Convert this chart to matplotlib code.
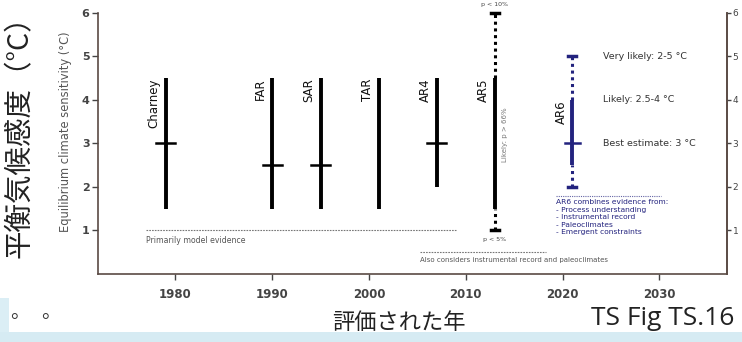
import numpy as np
import matplotlib
matplotlib.use("Agg")
import matplotlib.pyplot as plt
from matplotlib.patches import Rectangle

# ---- data ----
assessments = ["Charney", "FAR", "SAR", "TAR", "AR4", "AR5", "AR6"]
years = [1979, 1990, 1995, 2001, 2007, 2013, 2021]
likely_low = [1.5, 1.5, 1.5, 1.5, 2.0, 1.5, 2.5]
likely_high = [4.5, 4.5, 4.5, 4.5, 4.5, 4.5, 4.0]
best_estimate = [3.0, 2.5, 2.5, np.nan, 3.0, np.nan, 3.0]
very_likely = {"AR5": (1.0, 6.0), "AR6": (2.0, 5.0)}
yticks = [1, 2, 3, 4, 5, 6]
xticks = [1980, 1990, 2000, 2010, 2020, 2030]
ar6_notes = [(5.0, "Very likely: 2-5 °C"), (4.0, "Likely: 2.5-4 °C"), (3.0, "Best estimate: 3 °C")]
ar6_evidence = ["AR6 combines evidence from:", "- Process understanding",
                "- Instrumental record", "- Paleoclimates", "- Emergent constraints"]

JP = ["Noto Sans CJK JP", "DejaVu Sans"]
NAVY = "#23237e"
GREY = "#555555"

fig = plt.figure(figsize=(7.42, 3.42), dpi=100)
fig.patch.set_facecolor("white")

# decorative light-blue background strips of the slide
fig.patches.append(Rectangle((0, 0), 1, 0.028, transform=fig.transFigure,
                             facecolor="#d6ebf3", edgecolor="none", zorder=0))
fig.patches.append(Rectangle((0.0, 0.028), 0.012, 0.1, transform=fig.transFigure,
                             facecolor="#dbeef5", edgecolor="none", zorder=0))

ax = fig.add_axes([0.132, 0.199, 0.848, 0.763])
ax.set_xlim(1972, 2037)
ax.set_ylim(0, 6)
ax.set_facecolor("white")
ax.spines["top"].set_visible(False)
for s in ["left", "bottom", "right"]:
    ax.spines[s].set_color("#5a4a44")
    ax.spines[s].set_linewidth(1.2)

ax.set_yticks(yticks)
ax.set_yticklabels([str(v) for v in yticks])
ax.set_xticks(xticks)
ax.set_xticklabels([str(v) for v in xticks])
ax.tick_params(axis="y", length=4, width=1, colors="#444444", labelsize=8, pad=2)
ax.tick_params(axis="x", length=4, width=1, colors="#444444", labelsize=8.5, pad=6)
for lab in ax.get_xticklabels() + ax.get_yticklabels():
    lab.set_fontweight("bold")
    lab.set_color("#444444")

# right axis
ax2 = ax.twinx()
ax2.set_ylim(0, 6)
ax2.set_yticks(yticks)
ax2.set_yticklabels([str(v) for v in yticks])
ax2.tick_params(axis="y", length=3, width=1, colors="#444444", labelsize=6.5, pad=1)
for s in ["top", "left", "bottom"]:
    ax2.spines[s].set_visible(False)
ax2.spines["right"].set_color("#5a4a44")
ax2.spines["right"].set_linewidth(1.2)

# bars
for name, yr, lo, hi, be in zip(assessments, years, likely_low, likely_high, best_estimate):
    col = NAVY if name == "AR6" else "black"
    half = 0.75 if name == "AR6" else 1.0
    if name in very_likely:
        vlo, vhi = very_likely[name]
        ax.plot([yr, yr], [vlo, lo], color=col, lw=2.2, ls=(0, (1, 1.2)), solid_capstyle="butt")
        ax.plot([yr, yr], [hi, vhi], color=col, lw=2.2, ls=(0, (1, 1.2)), solid_capstyle="butt")
        ax.plot([yr - 0.4, yr + 0.4], [vlo, vlo], color=col, lw=2.5, clip_on=False)
        ax.plot([yr - 0.4, yr + 0.4], [vhi, vhi], color=col, lw=2.5, clip_on=False)
    ax.plot([yr, yr], [lo, hi], color=col, lw=2.8, solid_capstyle="butt")
    if not np.isnan(be):
        ax.plot([yr - half, yr + half], [be, be], color=col, lw=1.8)
    ax.annotate(name, xy=(yr, hi), xytext=(-3.5, 0), textcoords="offset points",
                rotation=90, ha="right", va="top", fontsize=8.5, color="#111111")

# AR5 annotations
i5 = assessments.index("AR5")
x5 = years[i5]
ax.annotate("p < 10%", xy=(x5, very_likely["AR5"][1]), xytext=(0, 4), textcoords="offset points",
            ha="center", va="bottom", fontsize=4.5, color="#444444", annotation_clip=False)
ax.annotate("p < 5%", xy=(x5, very_likely["AR5"][0]), xytext=(0, -5), textcoords="offset points",
            ha="center", va="top", fontsize=4.5, color="#444444")
ax.annotate("Likely: p > 66%", xy=(x5, 3.2), xytext=(7, 0), textcoords="offset points",
            rotation=90, ha="center", va="center", fontsize=5, color="#777777")

# AR6 annotations
x6 = years[assessments.index("AR6")]
for val, txt in ar6_notes:
    ax.annotate(txt, xy=(x6, val), xytext=(22, 0), textcoords="offset points",
                ha="left", va="center", fontsize=6.8, color="#333333")

ax.plot([2019.3, 2030.2], [1.8, 1.8], color=NAVY, lw=0.8, ls=(0, (1, 1)), alpha=0.7)
ax.text(2019.3, 1.72, "\n".join(ar6_evidence), fontsize=5.4, color=NAVY,
        ha="left", va="top", linespacing=1.3)

# model-evidence lines
ax.plot([1977.0, 2009.0], [1.0, 1.0], color="#777777", lw=0.8, ls=(0, (1.5, 1)))
ax.text(1977.0, 0.88, "Primarily model evidence", fontsize=5.6, color=GREY, ha="left", va="top")
ax.plot([2005.3, 2018.3], [0.5, 0.5], color="#777777", lw=0.8, ls=(0, (1.5, 1)))
ax.text(2005.3, 0.39, "Also considers instrumental record and paleoclimates", fontsize=5.0,
        color=GREY, ha="left", va="top")

# axis labels
fig.text(0.088, 0.614, "Equilibrium climate sensitivity (°C)", rotation=90, ha="center",
         va="center", fontsize=8.3, color="#555555")
fig.text(0.027, 0.62, "平衡気候感度（°C）", rotation=90, ha="center", va="center",
         fontsize=20.5, color="#222222", family=JP)
fig.text(0.537, 0.058, "評価された年", ha="center", va="center", fontsize=16,
         color="#222222", family=JP)
fig.text(0.797, 0.07, "TS Fig TS.16", ha="left", va="center", fontsize=19,
         color="#222222", family=["Open Sans", "DejaVu Sans"])
fig.text(0.014, 0.085, "。", ha="left", va="center", fontsize=14,
         color="#333333", family=JP)
fig.text(0.056, 0.085, "。", ha="left", va="center", fontsize=14,
         color="#333333", family=JP)

fig.savefig("out.png", dpi=100)
